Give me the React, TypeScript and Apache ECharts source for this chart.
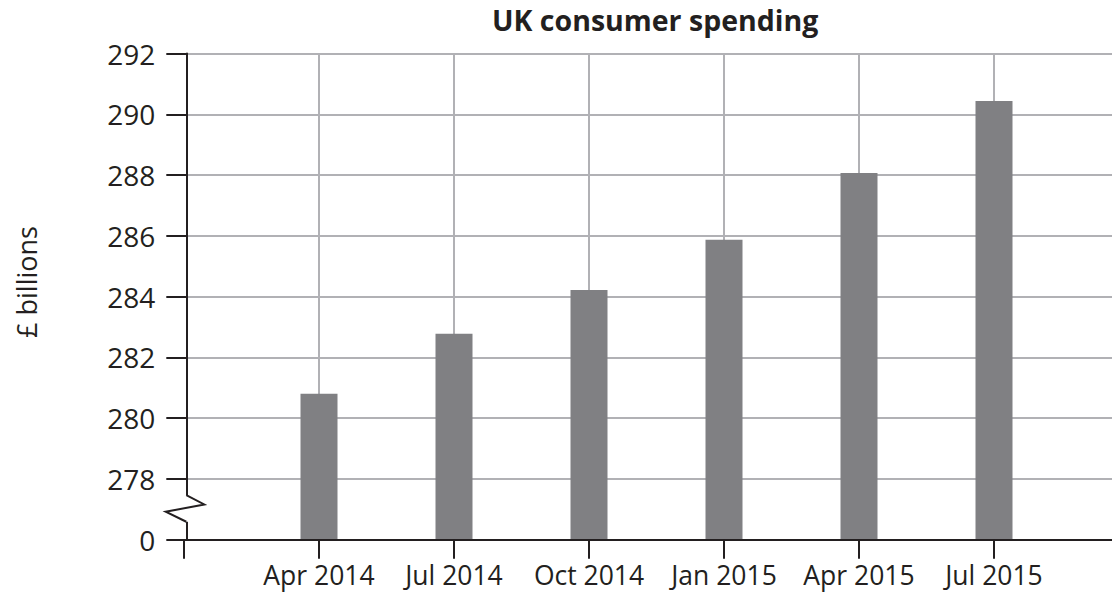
import React, { useEffect, useRef } from "react";
import * as echarts from "echarts";

const chartTitle = "UK consumer spending";
const yAxisTitle = "£ billions";
const categories = ["", "Apr 2014", "Jul 2014", "Oct 2014", "Jan 2015", "Apr 2015", "Jul 2015", ""];
const spending = [null, 280.8, 282.78, 284.22, 285.87, 288.07, 290.44, null];
const yMin = 276;
const yMax = 292;
const yStep = 2;
const brokenTickLabel = "0";

const FONT = "'Open Sans', 'Noto Sans', sans-serif";
const INK = "#231f20";
const GRID = "#b1b1b5";
const BAR = "#808083";
const Y_OFFSET = 2.3;

export default function App() {
  const ref = useRef<HTMLDivElement>(null);
  useEffect(() => {
    if (!ref.current) return;
    const chart = echarts.init(ref.current, null, { renderer: "svg" });
    chart.setOption({
      animation: false,
      textStyle: { fontFamily: FONT },
      title: {
        text: chartTitle,
        left: 492,
        top: 5,
        padding: 0,
        textStyle: {
          fontFamily: FONT,
          fontSize: 28.5,
          lineHeight: 30,
          fontWeight: "bold",
          color: INK,
        },
      },
      grid: {
        left: 184,
        right: -17,
        top: 53.5,
        bottom: 54.3,
        containLabel: false,
        outerBoundsMode: "none",
      },
      xAxis: [
        {
          type: "category",
          data: categories,
          boundaryGap: false,
          z: 3,
          axisLine: { show: true, onZero: false, lineStyle: { color: INK, width: 2 } },
          axisTick: { show: true, interval: 0, length: 19, lineStyle: { color: INK, width: 2 } },
          axisLabel: {
            interval: 0,
            margin: 22.5,
            fontSize: 26.5,
            lineHeight: 26.5,
            color: INK,
            fontFamily: FONT,
          },
          splitLine: { show: false },
        },
        {
          type: "category",
          data: categories,
          boundaryGap: false,
          z: 0,
          axisLine: { show: false, onZero: false },
          axisTick: { show: false },
          axisLabel: { show: false },
          splitLine: {
            show: true,
            interval: (i: number) => i > 0 && i < categories.length - 1,
            lineStyle: { color: GRID, width: 2 },
          },
        },
      ],
      yAxis: [
        {
          type: "value",
          min: yMin,
          max: yMax,
          interval: yStep,
          offset: -Y_OFFSET,
          z: 3,
          axisLine: { show: true, onZero: false, lineStyle: { color: INK, width: 2 } },
          axisTick: { show: true, length: 20, lineStyle: { color: INK, width: 2 } },
          axisLabel: {
            margin: 31,
            fontSize: 28,
            color: INK,
            fontFamily: FONT,
            formatter: (v: number) => (v === yMin ? brokenTickLabel : String(v)),
          },
          splitLine: { show: false },
        },
        {
          type: "value",
          min: yMin,
          max: yMax,
          interval: yStep,
          z: 0,
          axisLine: { show: false, onZero: false },
          axisTick: { show: false },
          axisLabel: { show: false },
          splitLine: { show: true, lineStyle: { color: GRID, width: 2 } },
        },
      ],
      series: [
        {
          type: "bar",
          data: spending,
          xAxisIndex: 0,
          yAxisIndex: 0,
          barWidth: 37,
          itemStyle: { color: BAR },
          z: 2,
        },
      ],
    });

    const ax = (chart.convertToPixel({ xAxisIndex: 0 }, 0) as number) + Y_OFFSET;
    const py = (v: number) => chart.convertToPixel({ yAxisIndex: 0 }, v) as number;
    const yTop = py(277.47);
    const yBot = py(276.59);
    chart.setOption({
      graphic: [
        {
          type: "rect",
          z: 10,
          shape: { x: ax - 2, y: yTop, width: 4, height: yBot - yTop },
          style: { fill: "#ffffff" },
        },
        {
          type: "polyline",
          z: 11,
          shape: {
            points: [
              [ax, yTop],
              [ax + 18, py(277.16)],
              [ax - 20.6, py(276.92)],
              [ax, yBot],
            ],
          },
          style: { stroke: INK, lineWidth: 2, fill: "none" },
        },
        {
          type: "text",
          z: 10,
          x: 26,
          y: 282,
          rotation: Math.PI / 2,
          style: {
            text: yAxisTitle,
            fontFamily: FONT,
            fontSize: 27,
            fill: INK,
            align: "center",
            verticalAlign: "middle",
          },
        },
      ],
    });
    return () => chart.dispose();
  }, []);
  return (
    <div
      ref={ref}
      style={{ position: "absolute", left: 0, top: 0, width: 1112, height: 594, background: "#fff" }}
    />
  );
}
